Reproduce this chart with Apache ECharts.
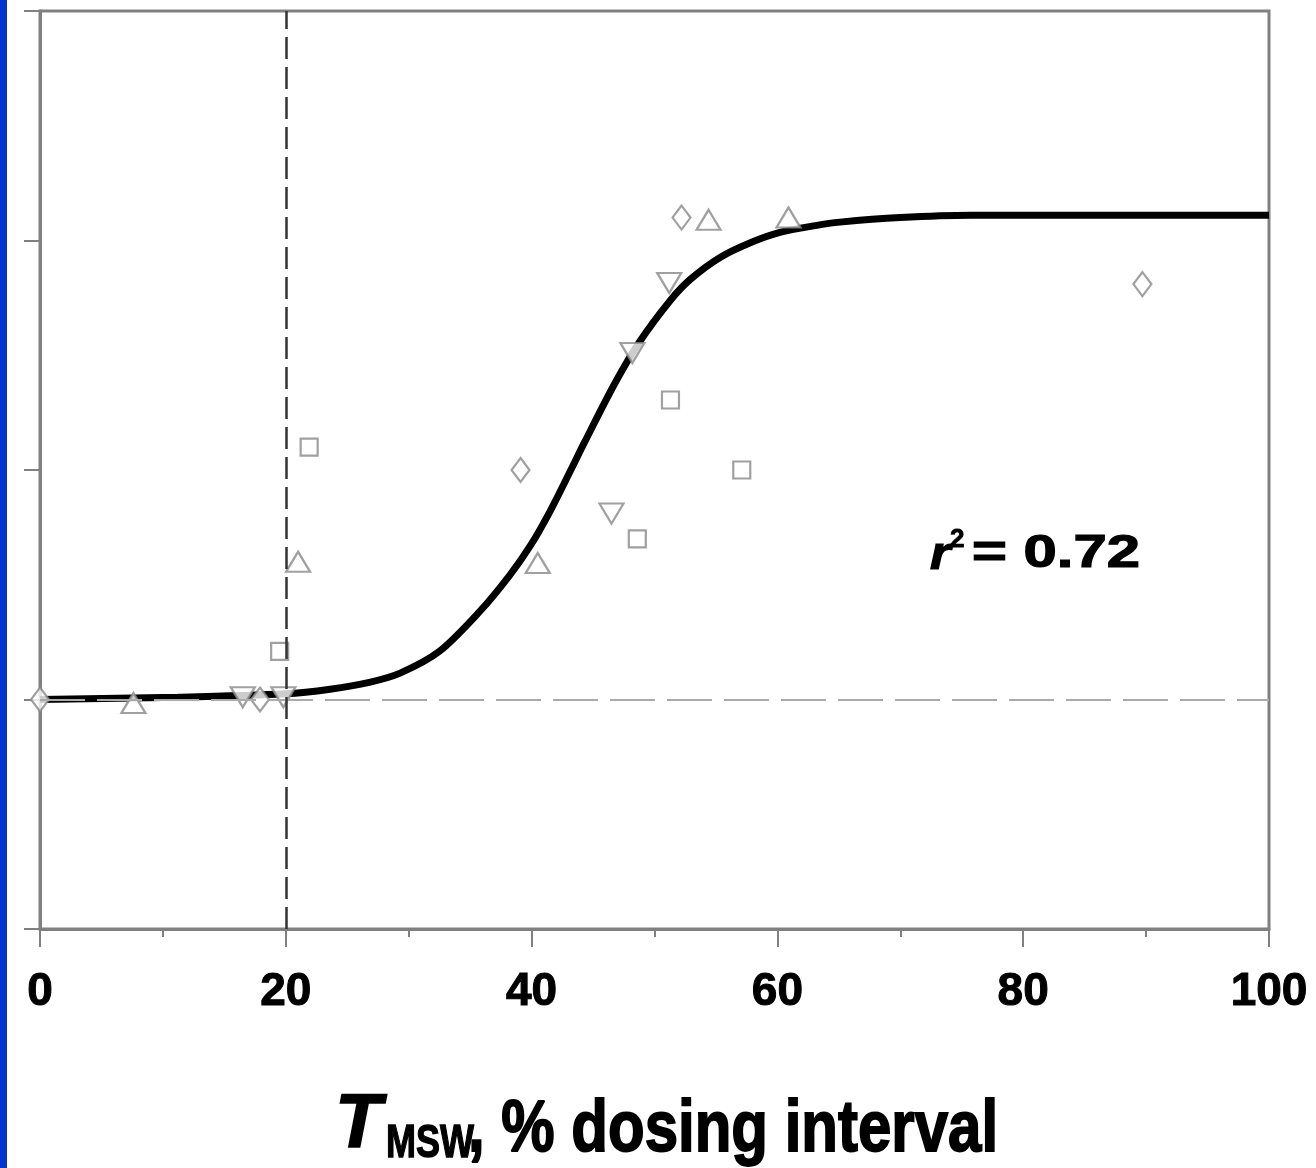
<!DOCTYPE html>
<html>
<head>
<meta charset="utf-8">
<script src="https://cdn.jsdelivr.net/npm/echarts@6/dist/echarts.min.js"></script>
<style>html,body{margin:0;padding:0;background:#fff;}#c{width:1316px;height:1168px;}</style>
</head>
<body>
<div id="c"></div>
<script>
// ---- data ----
var xTicks = [0, 20, 40, 60, 80, 100];
var curveX = [0, 11.2, 20.0, 23.6, 26.8, 29.3, 32.5, 35.8, 38.2, 39.9, 41.5, 43.1, 44.3, 46.8, 48.8, 51.3, 52.9, 55.3, 57.8, 60.2, 63.1, 65.1, 70.0, 75.7, 100];
var curveY = [1.00, 1.01, 1.025, 1.045, 1.075, 1.115, 1.21, 1.385, 1.54, 1.67, 1.82, 1.99, 2.12, 2.38, 2.56, 2.74, 2.83, 2.925, 2.99, 3.035, 3.065, 3.08, 3.10, 3.11, 3.11];
var diamondX = [0, 17.9, 39.1, 52.2, 89.7];
var diamondY = [1.00, 1.00, 2.00, 3.10, 2.81];
var triUpX = [7.6, 21.0, 40.5, 54.4, 60.9];
var triUpY = [0.985, 1.60, 1.595, 3.09, 3.10];
var triDownX = [16.5, 19.8, 46.5, 48.2, 51.2];
var triDownY = [1.01, 1.01, 1.81, 2.51, 2.815];
var squareX = [19.5, 21.9, 48.6, 51.3, 57.1];
var squareY = [1.21, 2.10, 1.70, 2.305, 2.00];
var refX = 20;       // vertical dashed line
var baselineY = 1;   // horizontal dashed line
var r2Text = '= 0.72';

function pairs(xs, ys) { return xs.map(function (x, i) { return [x, ys[i]]; }); }

var chart = echarts.init(document.getElementById('c'), null, { renderer: 'canvas' });
var grey = '#808080';
var markerStyle = { color: '#ffffff', borderColor: '#888888', borderWidth: 2.2 };
var FONT = '"Liberation Sans", Arial, sans-serif';

chart.setOption({
  animation: false,
  backgroundColor: '#ffffff',
  grid: { left: 40, right: 47, top: 11, bottom: 239, show: true, borderColor: grey, borderWidth: 3, backgroundColor: 'transparent' },
  xAxis: {
    type: 'value', min: 0, max: 100, interval: 20,
    axisLine: { show: true, onZero: false, lineStyle: { color: grey, width: 3 } },
    axisTick: { show: true, length: 18, lineStyle: { color: grey, width: 2 } },
    minorTick: { show: true, splitNumber: 2, length: 8, lineStyle: { color: grey, width: 2 } },
    splitLine: { show: false },
    axisLabel: {
      margin: 40, color: '#000', fontFamily: 'Liberation Sans, Arial, sans-serif', fontWeight: 'bold', fontSize: 46,
      textBorderColor: '#000', textBorderWidth: 1,
      formatter: function (v) { return xTicks.indexOf(v) >= 0 ? String(v) : ''; }
    }
  },
  yAxis: {
    type: 'value', min: 0, max: 4, interval: 1,
    axisLine: { show: true, onZero: false, lineStyle: { color: grey, width: 3 } },
    axisTick: { show: true, length: 16, lineStyle: { color: grey, width: 2 } },
    axisLabel: { show: false },
    splitLine: { show: false }
  },
  series: [
    {
      type: 'line', data: [], z: 1, silent: true,
      markLine: {
        silent: true, symbol: 'none', label: { show: false },
        data: [
          { yAxis: baselineY, lineStyle: { color: '#aaaaaa', width: 2, type: [45, 12] } },
          { xAxis: refX, lineStyle: { color: '#333333', width: 2.5, type: [22, 8] } }
        ]
      }
    },
    {
      type: 'line', data: pairs(curveX, curveY), smooth: 0.3, showSymbol: false, z: 2, silent: true,
      lineStyle: { color: '#000000', width: 7 }
    },
    { type: 'scatter', data: pairs(diamondX, diamondY), symbol: 'diamond', symbolSize: [18, 24], itemStyle: markerStyle, z: 3, silent: true },
    { type: 'scatter', data: pairs(triUpX, triUpY), symbol: 'triangle', symbolSize: [24, 20], itemStyle: markerStyle, z: 3, silent: true },
    { type: 'scatter', data: pairs(triDownX, triDownY), symbol: 'triangle', symbolRotate: 180, symbolSize: [24, 20], itemStyle: markerStyle, z: 3, silent: true },
    { type: 'scatter', data: pairs(squareX, squareY), symbol: 'rect', symbolSize: [17, 17], itemStyle: markerStyle, z: 3, silent: true }
  ],
  graphic: [
    { type: 'rect', left: 0, top: 0, shape: { width: 7, height: 1168 }, style: { fill: '#0433d0' }, silent: true },
    { type: 'text', x: 335, y: 1126, style: { text: 'T', font: 'italic bold 76px ' + FONT, fill: '#000', stroke: '#000', lineWidth: 1.5, verticalAlign: 'middle', align: 'left' } },
    { type: 'text', x: 386, y: 1144, scaleY: 1.3, style: { text: 'MSW', font: 'bold 36px ' + FONT, fill: '#000', stroke: '#000', lineWidth: 1, verticalAlign: 'middle', align: 'left' } },
    { type: 'text', x: 468, y: 1131, scaleY: 1.2, style: { text: ', % dosing interval', font: 'bold 60px ' + FONT, fill: '#000', stroke: '#000', lineWidth: 1.5, verticalAlign: 'middle', align: 'left' } },
    { type: 'text', x: 930, y: 556, scaleX: 1.15, style: { text: 'r', font: 'italic bold 46px ' + FONT, fill: '#000', stroke: '#000', lineWidth: 1.2, verticalAlign: 'middle', align: 'left' } },
    { type: 'text', x: 950, y: 540, style: { text: '2', font: 'bold 26px ' + FONT, fill: '#000', stroke: '#000', lineWidth: 0.8, verticalAlign: 'middle', align: 'left' } },
    { type: 'text', x: 972, y: 554, scaleX: 1.3, style: { text: r2Text, font: 'bold 46px ' + FONT, fill: '#000', stroke: '#000', lineWidth: 1.2, verticalAlign: 'middle', align: 'left' } }
  ]
});
</script>
</body>
</html>
